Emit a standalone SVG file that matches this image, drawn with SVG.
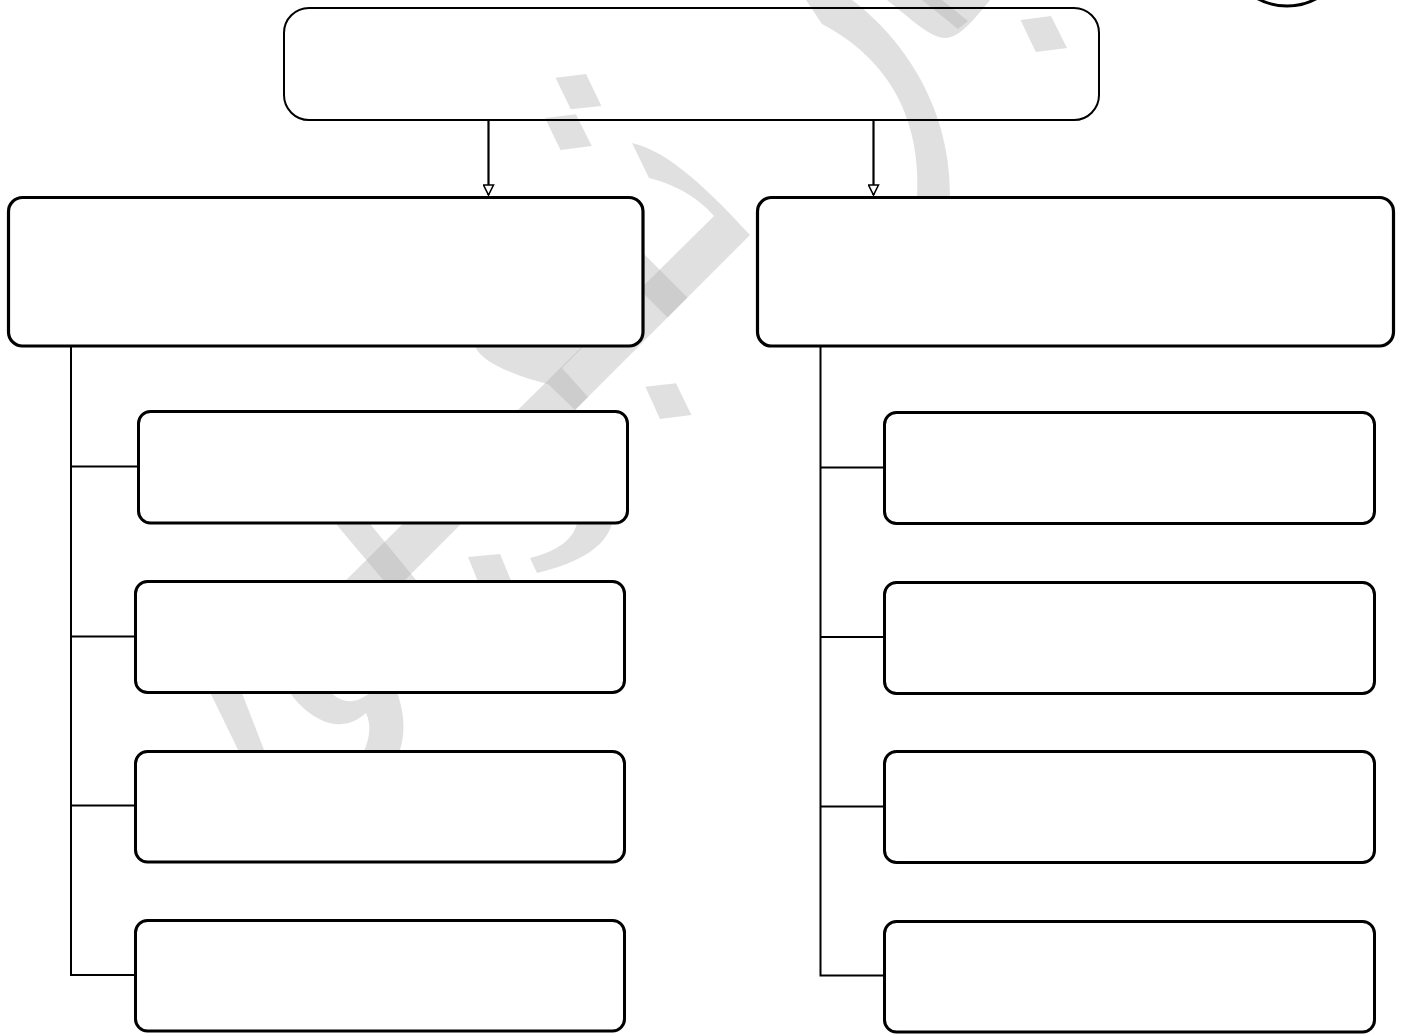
<svg xmlns="http://www.w3.org/2000/svg" width="1402" height="1034" viewBox="0 0 1402 1034">
<style>
.wm{fill:#b0b0b0;fill-opacity:0.39;stroke:none}
.top{fill:none;stroke:#000;stroke-width:2}
.mid{fill:#fff;stroke:#000;stroke-width:3.2}
.child{fill:#fff;stroke:#000;stroke-width:3}
.conn{fill:none;stroke:#000;stroke-width:2}
.arrow{fill:none;stroke:#000;stroke-width:2.2}
</style>
<defs>
<marker id="ah" markerUnits="userSpaceOnUse" markerWidth="12" markerHeight="12" refX="10" refY="5" orient="auto" viewBox="-1 -1 12 12">
<path d="M0,0 L10,5 L0,10 Z" fill="#fff" stroke="#000" stroke-width="1.6"/>
</marker>
</defs>
<rect width="1402" height="1034" fill="#fff"/>
<g id="watermark">
<path class="wm" d="M806,0 L852,0 C905,40 952,110 950,200 L917,200 C922,120 890,60 822,24 Z"/>
<path class="wm" d="M887,0 L990,0 C975,18 960,38 945,38 C930,38 910,18 887,0 Z"/>
<polygon class="wm" points="922,0 942,0 968,21 958,29"/>
<polygon class="wm" points="555.5,77.7 586,74 601.4,106 570.8,109.3"/>
<polygon class="wm" points="545,118 575.8,114.3 591.8,146 560.5,150"/>
<polygon class="wm" points="645.4,386.7 676,383.3 691.4,415 660,419"/>
<polygon class="wm" points="1020.5,20 1051,16 1067,48 1035.8,52"/>
<polygon class="wm" points="468,557 500,554 515,590 483,594"/>
<path class="wm" d="M632,143 C662,150 695,175 750,235 L302,683 L242,683 L714,216 C700,200 680,186 649,178 Z"/>
<polygon class="wm" points="600,210 687.5,297.5 667.5,317.5 580,230"/>
<path class="wm" d="M470,330 L476,348 C482,362 515,376 548,384 L575,410 L588,397 L562,368 L598,332 Z"/>
<polygon class="wm" points="299,480 334,480 453,625 421,625"/>
<path class="wm" d="M578,518 L613,518 C610,545 580,563 537,573 L530,558 C555,552 576,540 578,518 Z"/>
<polygon class="wm" points="208,688 240,688 268,760 243,760"/>
<path class="wm" d="M288,690 L328,690 C338,700 348,704 360,699 L376,690 L396,690 C406,715 406,740 396,760 L360,760 C370,740 372,726 366,713 C356,722 346,725 335,724 C318,722 300,708 288,690 Z"/>
</g>
<g id="connectors">
<line class="arrow" x1="488.5" y1="121" x2="488.5" y2="195" marker-end="url(#ah)"/>
<line class="arrow" x1="873.5" y1="121" x2="873.5" y2="195" marker-end="url(#ah)"/>
<polyline class="conn" points="71,347 71,975 136,975"/>
<line class="conn" x1="71" y1="466.5" x2="138" y2="466.5"/>
<line class="conn" x1="71" y1="636.5" x2="135" y2="636.5"/>
<line class="conn" x1="71" y1="805.5" x2="135" y2="805.5"/>
<polyline class="conn" points="820.5,347 820.5,975.5 884,975.5"/>
<line class="conn" x1="820.5" y1="467.5" x2="884" y2="467.5"/>
<line class="conn" x1="820.5" y1="637" x2="884" y2="637"/>
<line class="conn" x1="820.5" y1="806.5" x2="884" y2="806.5"/>
</g>
<g id="circle-node">
<circle cx="1287" cy="-55" r="61" fill="none" stroke="#000" stroke-width="3"/>
</g>
<g id="top-node">
<rect class="top" x="284" y="8" width="815" height="112" rx="25" ry="25"/>
</g>
<g id="left-main">
<rect class="mid" x="8.5" y="197.5" width="634.5" height="148.5" rx="14" ry="14"/>
</g>
<g id="right-main">
<rect class="mid" x="757.5" y="197.5" width="636" height="148.5" rx="14" ry="14"/>
</g>
<g id="left-1"><rect class="child" x="138.5" y="411.5" width="489" height="111.5" rx="12" ry="12"/></g>
<g id="left-2"><rect class="child" x="135.5" y="581.5" width="489" height="111" rx="12" ry="12"/></g>
<g id="left-3"><rect class="child" x="135.5" y="751.5" width="489" height="110.5" rx="12" ry="12"/></g>
<g id="left-4"><rect class="child" x="135.5" y="920.5" width="489" height="110.5" rx="12" ry="12"/></g>
<g id="right-1"><rect class="child" x="884.5" y="412.5" width="490" height="111" rx="12" ry="12"/></g>
<g id="right-2"><rect class="child" x="884.5" y="582.5" width="490" height="111" rx="12" ry="12"/></g>
<g id="right-3"><rect class="child" x="884.5" y="751.5" width="490" height="111" rx="12" ry="12"/></g>
<g id="right-4"><rect class="child" x="884.5" y="921.5" width="490" height="110.5" rx="12" ry="12"/></g>
</svg>
